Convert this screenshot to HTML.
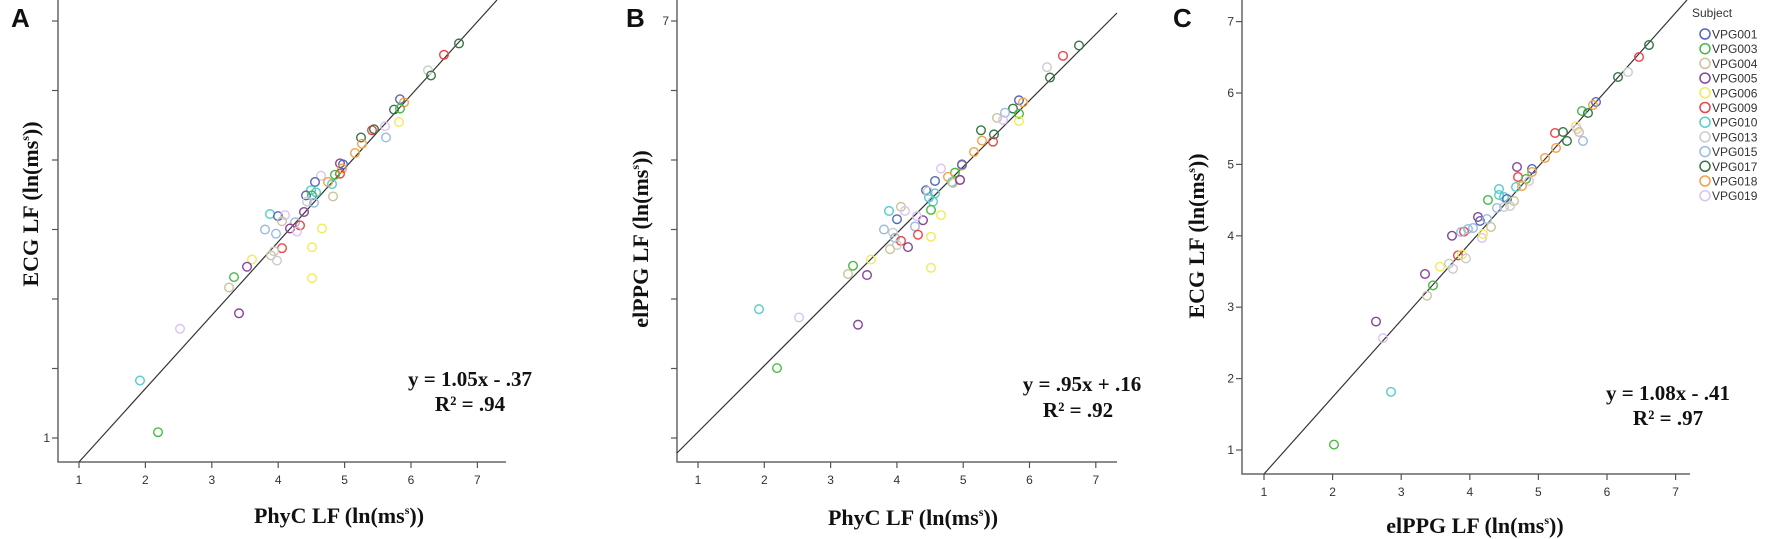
<!DOCTYPE html>
<html><head><meta charset="utf-8"><style>
html,body{margin:0;padding:0;background:#fff;}
svg{display:block;}
.tk{font-family:"Liberation Sans",sans-serif;font-size:12px;fill:#333;}
.lab{font-family:"Liberation Serif",serif;font-weight:bold;font-size:22px;fill:#111;}
.eq{font-family:"Liberation Serif",serif;font-weight:bold;font-size:21px;fill:#111;}
.pl{font-family:"Liberation Sans",sans-serif;font-weight:bold;font-size:26px;fill:#111;}
.lg{font-family:"Liberation Sans",sans-serif;font-size:12px;fill:#333;}
</style></head><body>
<svg id="s" width="1772" height="539" xmlns="http://www.w3.org/2000/svg">
<g stroke="#666" stroke-width="1.5" fill="none">
<path d="M58 0V462H506"/><path d="M677 0V462H1117"/><path d="M1242 0V474H1690"/>
</g>
<g stroke="#333" stroke-width="1.2">
<line x1="79" y1="462" x2="497" y2="0"/>
<line x1="677" y1="453" x2="1117" y2="13"/>
<line x1="1264" y1="474" x2="1687" y2="0"/>
</g>
<g id="ticks" stroke="#555" stroke-width="1.2"></g>
<g id="tl"></g>
<g id="pts" fill="none" stroke-width="1.4"></g>
<text class="pl" x="11" y="27">A</text>
<text class="pl" x="626" y="27">B</text>
<text class="pl" x="1173" y="27">C</text>
<text class="lab" transform="translate(38,204) rotate(-90)" text-anchor="middle">ECG LF (ln(ms<tspan font-size="12" dy="-9">s</tspan><tspan dy="9">))</tspan></text>
<text class="lab" transform="translate(648,239) rotate(-90)" text-anchor="middle">elPPG LF (ln(ms<tspan font-size="12" dy="-9">s</tspan><tspan dy="9">))</tspan></text>
<text class="lab" transform="translate(1204,236) rotate(-90)" text-anchor="middle">ECG LF (ln(ms<tspan font-size="12" dy="-9">s</tspan><tspan dy="9">))</tspan></text>
<text class="lab" x="339" y="523" text-anchor="middle">PhyC LF (ln(ms<tspan font-size="12" dy="-9">s</tspan><tspan dy="9">))</tspan></text>
<text class="lab" x="913" y="525" text-anchor="middle">PhyC LF (ln(ms<tspan font-size="12" dy="-9">s</tspan><tspan dy="9">))</tspan></text>
<text class="lab" x="1475" y="533" text-anchor="middle">elPPG LF (ln(ms<tspan font-size="12" dy="-9">s</tspan><tspan dy="9">))</tspan></text>
<text class="eq" x="470" y="386" text-anchor="middle">y = 1.05x - .37</text>
<text class="eq" x="470" y="411" text-anchor="middle">R² = .94</text>
<text class="eq" x="1082" y="391" text-anchor="middle">y = .95x + .16</text>
<text class="eq" x="1078" y="417" text-anchor="middle">R² = .92</text>
<text class="eq" x="1668" y="400" text-anchor="middle">y = 1.08x - .41</text>
<text class="eq" x="1668" y="425" text-anchor="middle">R² = .97</text>
<text class="lg" x="1692" y="17" font-size="13">Subject</text>
<g id="leg"></g>
</svg>
<script>
var C={b:"#5566bb",g:"#44bb44",t:"#cbc39c",p:"#884499",y:"#f2ec55",r:"#ee4444",c:"#55cccc",gr:"#cccccc",l:"#99bbe0",d:"#337744",o:"#f5a040",v:"#dcc2f0"};
var NS="http://www.w3.org/2000/svg";
function el(p,t,a,txt){var e=document.createElementNS(NS,t);for(var k in a)e.setAttribute(k,a[k]);if(txt!==undefined)e.textContent=txt;p.appendChild(e);return e;}
var T=document.getElementById("ticks"),TL=document.getElementById("tl"),P=document.getElementById("pts");
function ax(x0,dx,ay,yax,ys,dy,labs,ylab){
 for(var i=0;i<7;i++){var x=x0+dx*i;el(T,"line",{x1:x,y1:ay,x2:x,y2:ay+6});el(TL,"text",{"class":"tk",x:x,y:ay+22,"text-anchor":"middle"},String(i+1));
 var y=ys-dy*i;el(T,"line",{x1:yax-6,y1:y,x2:yax,y2:y});
 if(ylab.indexOf(i+1)>=0)el(TL,"text",{"class":"tk",x:yax-8,y:y+4,"text-anchor":"end"},String(i+1));}
}
ax(79,66.4,462,58,438,69.5,0,[1]);
ax(698,66.3,462,677,438,69.5,0,[7]);
ax(1264,68.6,474,1242,450,71.4,0,[1,2,3,4,5,6,7]);
var K=1.034;
var A=[[444,53,"r"],[428,68,"gr"],[431,73,"d"],[459,42,"d"],[400,96,"b"],[404,99,"o"],[394,106,"d"],[400,105,"g"],[399,118,"y"],[385,122,"v"],[372,126,"r"],[374,125,"d"],[386,133,"l"],[361,133,"d"],[362,139,"o"],[355,148,"o"],[340,158,"p"],[343,159,"b"],[342,163,"o"],[340,168,"r"],[335,169,"g"],[321,170,"v"],[328,176,"o"],[332,178,"c"],[315,176,"b"],[311,184,"c"],[316,186,"c"],[306,189,"b"],[312,189,"g"],[333,190,"t"],[307,195,"gr"],[314,196,"l"],[304,205,"p"],[270,207,"c"],[278,209,"b"],[285,208,"v"],[282,214,"t"],[295,215,"l"],[300,218,"r"],[290,221,"p"],[297,224,"v"],[265,222,"l"],[276,226,"l"],[322,221,"y"],[312,239,"y"],[282,240,"r"],[274,243,"gr"],[271,247,"t"],[277,252,"gr"],[252,251,"y"],[247,258,"p"],[234,268,"g"],[229,278,"t"],[312,269,"y"],[239,303,"p"],[180,318,"v"],[140,368,"c"],[158,418,"g"]];
var B=[[1047,65,"gr"],[1050,75,"d"],[1063,54,"r"],[1079,44,"d"],[1019,97,"b"],[1023,99,"o"],[1013,105,"d"],[1019,110,"g"],[1005,109,"l"],[997,114,"t"],[1003,116,"v"],[1019,117,"y"],[981,126,"d"],[994,130,"d"],[982,136,"o"],[993,137,"r"],[974,147,"o"],[962,160,"o"],[962,159,"b"],[941,163,"v"],[955,167,"g"],[948,171,"o"],[952,176,"c"],[953,177,"t"],[960,174,"r"],[960,174,"p"],[935,175,"b"],[926,184,"b"],[928,185,"gr"],[935,187,"c"],[929,191,"c"],[933,195,"c"],[931,203,"g"],[941,208,"y"],[901,200,"t"],[905,204,"v"],[889,204,"c"],[897,212,"b"],[923,213,"p"],[917,209,"v"],[915,219,"l"],[884,222,"l"],[893,225,"gr"],[918,227,"r"],[895,230,"l"],[931,229,"y"],[901,233,"r"],[897,237,"gr"],[908,239,"p"],[890,241,"t"],[871,251,"y"],[853,257,"g"],[848,265,"t"],[867,266,"p"],[931,259,"y"],[759,299,"c"],[799,307,"v"],[858,314,"p"],[777,356,"g"]];
var C3=[[1334,430,"g"],[1391,379,"c"],[1376,311,"p"],[1383,327,"v"],[1425,265,"p"],[1427,286,"t"],[1433,276,"g"],[1440,258,"y"],[1449,255,"gr"],[1453,260,"gr"],[1458,247,"r"],[1462,246,"y"],[1466,250,"gr"],[1452,228,"p"],[1464,224,"r"]];
var C2=[[1649,45,"d"],[1639,57,"r"],[1628,72,"gr"],[1618,77,"d"],[1596,102,"b"],[1593,105,"o"],[1582,111,"g"],[1588,113,"d"],[1576,126,"y"],[1577,129,"v"],[1579,132,"t"],[1555,133,"r"],[1563,132,"d"],[1567,141,"d"],[1583,141,"l"],[1556,148,"o"],[1545,158,"o"],[1517,167,"p"],[1532,169,"b"],[1532,172,"o"],[1518,177,"r"],[1526,179,"g"],[1529,181,"v"],[1516,187,"c"],[1522,186,"o"],[1488,200,"g"],[1499,195,"c"],[1504,197,"c"],[1507,199,"b"],[1514,201,"t"],[1510,206,"gr"],[1504,207,"gr"],[1497,208,"l"],[1478,217,"p"],[1480,221,"b"],[1487,219,"l"],[1491,227,"t"],[1473,228,"l"],[1482,238,"v"],[1483,234,"y"],[1461,232,"l"],[1468,229,"l"],[1499,189,"c"]];
function dr(arr,k){arr.forEach(function(d){el(P,"circle",{cx:d[0],cy:d[1]*k,r:4.3,stroke:C[d[2]]});});}
dr(A,K);dr(B,K);dr(C3,K);dr(C2,1);
var L=[["VPG001","b"],["VPG003","g"],["VPG004","t"],["VPG005","p"],["VPG006","y"],["VPG009","r"],["VPG010","c"],["VPG013","gr"],["VPG015","l"],["VPG017","d"],["VPG018","o"],["VPG019","v"]];
var G=document.getElementById("leg");
L.forEach(function(d,i){var y=34+i*14.7;el(G,"circle",{cx:1705,cy:y,r:5,fill:"none",stroke:C[d[1]],"stroke-width":1.5});el(G,"text",{"class":"lg",x:1712,y:y+4.5},d[0]);});
</script>
</body></html>
